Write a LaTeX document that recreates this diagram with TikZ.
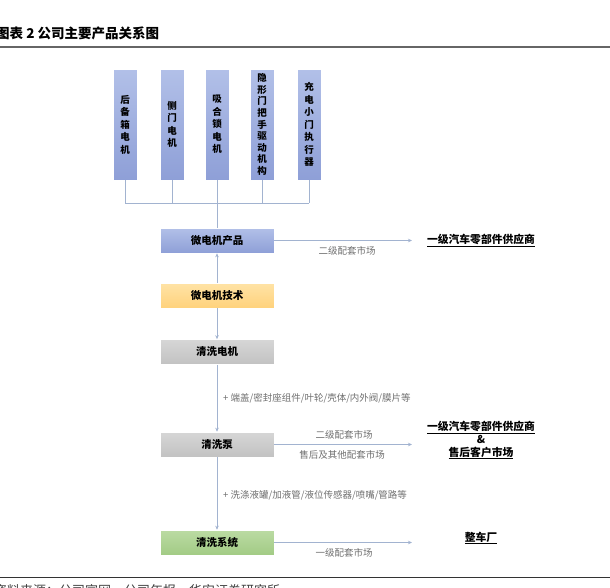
\documentclass[tikz,border=0pt]{standalone}
\usepackage{fontspec}
\setmainfont{Noto Sans CJK SC}
\usetikzlibrary{arrows.meta}
\definecolor{bluetop}{HTML}{B2C0E8}
\definecolor{bluebot}{HTML}{8E9FD7}
\definecolor{goldtop}{HTML}{FFE3A6}
\definecolor{goldbot}{HTML}{FFD27C}
\definecolor{greytop}{HTML}{D6D6D6}
\definecolor{greybot}{HTML}{C2C2C2}
\definecolor{greentop}{HTML}{BBDBA3}
\definecolor{greenbot}{HTML}{A2CB85}
\definecolor{linkcol}{HTML}{A2B3D0}
\definecolor{notecol}{HTML}{6F6F6F}
\begin{document}
\begin{tikzpicture}[
   x=1pt,y=-1pt,
   stick/.style={draw=white,line width=0.6pt,top color=bluetop,bottom color=bluebot,
     minimum width=24pt,minimum height=111pt,inner sep=0pt,align=center,
     font=\fontsize{9.5}{12.5}\selectfont\bfseries},
   stage/.style={draw=white,line width=0.6pt,minimum width=114pt,minimum height=25pt,
     inner sep=0pt,font=\fontsize{10.5}{12}\selectfont\bfseries},
   link/.style={draw=linkcol,line width=0.9pt},
   flow/.style={link,-{Stealth[length=4pt,width=3.5pt]}},
   note/.style={text=notecol,font=\fontsize{9.5}{11}\selectfont,inner sep=1pt},
   market/.style={font=\fontsize{10.8}{13}\selectfont\bfseries,align=center,inner sep=1pt}
 ]
  \clip (0,0) rectangle (610,587);
  % title and rules
  \node[anchor=west,inner sep=0pt,font=\fontsize{13.5}{15}\selectfont\bfseries] (title) at (-4,33) {图表 2 公司主要产品关系图};
  \draw[draw=black!60,line width=1.3pt] (0,47) -- (610,47);
  \draw[draw=black!80,line width=0.8pt] (0,577) -- (610,577);
  \node[anchor=west,inner sep=0pt,font=\fontsize{13}{15}\selectfont,text=black!75] (source) at (-6,591) {资料来源：公司官网，公司年报，华安证券研究所};

  % motor products
  \node[stick] (m1) at (125,124.5) {后\\备\\箱\\电\\机};
  \node[stick] (m2) at (172,124.5) {侧\\门\\电\\机};
  \node[stick] (m3) at (217,124.5) {吸\\合\\锁\\电\\机};
  \node[stick,font=\fontsize{9.5}{11.6}\selectfont\bfseries] (m4) at (262,124.5) {隐\\形\\门\\把\\手\\驱\\动\\机\\构};
  \node[stick] (m5) at (309,124.5) {充\\电\\小\\门\\执\\行\\器};
  \coordinate (bus) at (217,203);
  \foreach \i in {1,...,5}
    \draw[link] (m\i.south) -- (m\i.south |- bus);
  \draw[link] (m1.south |- bus) -- (m5.south |- bus);

  % main chain
  \node[stage,top color=bluetop,bottom color=bluebot] (prod) at (217,240.5) {微电机产品};
  \node[stage,top color=goldtop,bottom color=goldbot] (tech) at (217,295.5) {微电机技术};
  \node[stage,top color=greytop,bottom color=greybot] (wmotor) at (217,352) {清洗电机};
  \node[stage,top color=greytop,bottom color=greybot] (pump) at (217,444.5) {清洗泵};
  \node[stage,top color=greentop,bottom color=greenbot] (wsys) at (217,542.5) {清洗系统};
  \draw[link] (bus) -- (prod.north);
  \draw[flow] (tech) -- (prod);
  \draw[flow] (tech) -- (wmotor);
  \draw[flow] (wmotor) -- (pump);
  \draw[flow] (pump) -- (wsys);
  \node[note,anchor=west] (addpump) at (222,398) {+ 端盖/密封座组件/叶轮/壳体/内外阀/膜片等};
  \node[note,anchor=west] (addsys) at (222,495) {+ 洗涤液罐/加液管/液位传感器/喷嘴/管路等};

  % markets
  \node[market] (tier1) at (481,240) {\underline{一级汽车零部件供应商}};
  \node[market] (after) at (481,440) {\underline{一级汽车零部件供应商}\\\&\\\underline{售后客户市场}};
  \node[market] (oem) at (481,538) {\underline{整车厂}};
  \coordinate (e1) at (412,240.5);
  \coordinate (e2) at (412,444.5);
  \coordinate (e3) at (412,542.5);
  \draw[flow] (prod.east) -- (e1);
  \draw[flow] (pump.east) -- (e2);
  \draw[flow] (wsys.east) -- (e3);
  \node[note] (l1) at (347,250.5) {二级配套市场};
  \node[note] (l2) at (344,434.5) {二级配套市场};
  \node[note] (l3) at (342,455) {售后及其他配套市场};
  \node[note] (l4) at (344,553) {一级配套市场};
 \end{tikzpicture}
\end{document}
